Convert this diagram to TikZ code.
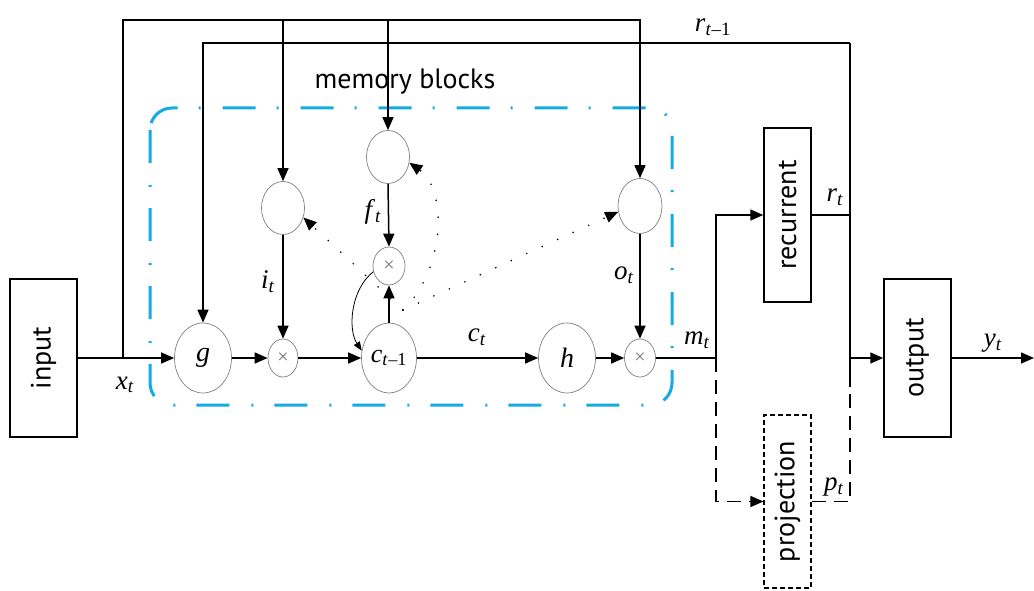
\documentclass[tikz,border=0pt]{standalone}
\usepackage{fontspec}
\setmainfont{Liberation Serif}
\newfontfamily\blockfont{PT Sans}
\usetikzlibrary{arrows.meta,shapes.geometric}
\definecolor{mblue}{RGB}{20,170,230}
\newcommand\lbl[2]{\textit{#1}\textsubscript{\textit{#2}}}
\begin{document}
\begin{tikzpicture}[x=1pt,y=-1pt,
  box/.style={draw, line width=1.5pt, inner sep=0pt, font=\blockfont\fontsize{28}{32}\selectfont},
  gate/.style={ellipse, draw=black!50, line width=0.7pt, inner sep=0pt},
  mult/.style={gate, text=black!55, font=\fontsize{20}{20}\selectfont},
  ln/.style={line width=1.5pt},
  arr/.style={ln, -{Triangle[length=13pt,width=11pt]}},
  dsh/.style={dash pattern=on 14pt off 8pt},
  lab/.style={font=\fontsize{27}{30}\selectfont, inner sep=0pt},
  dotl/.style={line width=1.8pt, line cap=round, dash pattern=on 0pt off 17pt},
  blk/.style={draw=mblue, line width=3pt, dash pattern=on 33pt off 22pt on 2pt off 21pt, rounded corners=22pt}
]
\useasboundingbox (0,0) rectangle (1034,591);

% memory block frame
\draw[blk] (150,108) rectangle (672,405);
\node[font=\blockfont\fontsize{28}{32}\selectfont, inner sep=0pt] (mb) at (405,82) {memory blocks};

% boxes
\node[box, minimum width=67pt, minimum height=158pt] (in) at (43.5,358) {\rotatebox{90}{input}};
\node[box, minimum width=47pt, minimum height=174pt] (rec) at (787.5,215) {\rotatebox{90}{recurrent}};
\node[box, line width=1.2pt, dash pattern=on 5pt off 3pt, minimum width=47pt, minimum height=173pt] (proj) at (787.5,501.5) {\rotatebox{90}{projection}};
\node[box, minimum width=67pt, minimum height=158pt] (out) at (917.5,358) {\rotatebox{90}{output}};

% ellipses
\node[gate, minimum width=57pt, minimum height=70pt, font=\fontsize{28}{30}\selectfont\itshape] (g) at (203,358) {g};
\node[mult, minimum width=30pt, minimum height=38pt] (im) at (283,358) {×};
\node[gate, minimum width=55pt, minimum height=70pt, font=\fontsize{26}{28}\selectfont] (c) at (389,358) {\lbl{c}{t}\textsubscript{–1}};
\node[gate, minimum width=57pt, minimum height=70pt, font=\fontsize{28}{30}\selectfont\itshape] (h) at (567,358) {h};
\node[mult, minimum width=31pt, minimum height=38pt] (om) at (640,358) {×};
\node[gate, minimum width=43pt, minimum height=53pt] (ig) at (283,208) {};
\node[gate, minimum width=43pt, minimum height=53pt] (fg) at (388,157) {};
\node[gate, minimum width=44pt, minimum height=55pt] (og) at (640,206) {};
\node[mult, minimum width=32pt, minimum height=38pt] (fm) at (389,266) {×};

% coordinates
\coordinate (xj) at (123,358);
\coordinate (t1) at (123,20);
\coordinate (t2) at (640,20);
\coordinate (r1) at (850,43);
\coordinate (rj2) at (850,387);
\coordinate (oj) at (850,358);
\coordinate (mj) at (716,358);
\coordinate (pc) at (403,310);

% main line
\draw[arr] (in.east) -- (g.west);
\draw[arr] (g.east) -- (im.west);
\draw[arr] (im.east) -- (c.west);
\draw[arr] (c.east) -- (h.west);
\draw[arr] (h.east) -- (om.west);
\draw[ln] (om.east) -- (mj);

% top feeds
\draw[arr] (xj) -- (t1) -- (t2) -- (og.north);
\draw[arr] (ig.north |- t1) -- (ig.north);
\draw[arr] (fg.north |- t1) -- (fg.north);
\draw[arr] (r1) -- (g.north |- r1) -- (g.north);
\draw[ln] (r1) -- (rj2);
\draw[ln] (rec.east) -- (rec.east -| r1);
\draw[arr] (oj) -- (out.west);
\draw[arr] (mj) |- (rec.west);
\draw[ln, dsh, -{Triangle[length=13pt,width=11pt]}] (mj) |- (proj.west);
\draw[ln, dsh] (proj.east) -| (rj2);
\draw[arr] (out.east) -- (1034,358);

% gates to multipliers
\draw[arr] (ig.south) -- (im.north);
\draw[arr] (fg.south) -- (fm.north);
\draw[arr] (c.north) -- (fm.south);
\draw[arr] (og.south) -- (om.north);
\draw[line width=0.8pt, -{Triangle[length=9pt,width=7pt]}] (fm.200) .. controls (350,290) and (348,330) .. (c.165);

% peepholes
\draw[dotl, -{Triangle[length=13pt,width=11pt]}] (pc) -- (ig.-25);
\draw[dotl, -{Triangle[length=13pt,width=11pt]}] (pc) .. controls (445,270) and (448,190) .. (fg.-15);
\draw[dotl, -{Triangle[length=13pt,width=11pt]}] (pc) -- (og.195);

% labels
\node[lab] (lx) at (125,385) {\lbl{x}{t}};
\node[lab] (li) at (268,282) {\lbl{i}{t}};
\node[lab] (lf) at (373,212) {\lbl{f}{t}};
\node[lab] (lo) at (624,275) {\lbl{o}{t}};
\node[lab] (lc) at (477,337) {\lbl{c}{t}};
\node[lab] (lm) at (697,340) {\lbl{m}{t}};
\node[lab] (lr) at (835,197) {\lbl{r}{t}};
\node[lab] (lp) at (834,487) {\lbl{p}{t}};
\node[lab] (ly) at (993,343) {\lbl{y}{t}};
\node[lab] (lr1) at (713,27) {\lbl{r}{t}\textsubscript{–1}};
\end{tikzpicture}
\end{document}
